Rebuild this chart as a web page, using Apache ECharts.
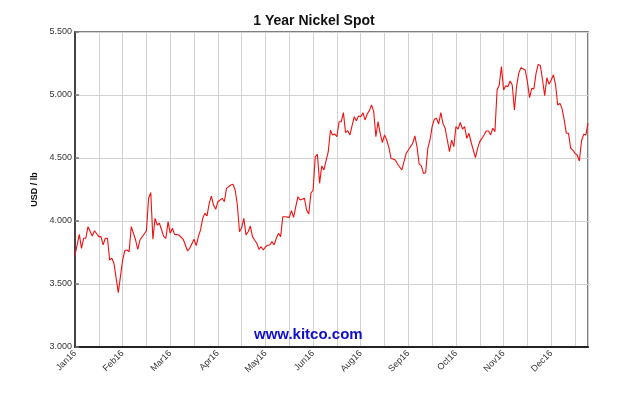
<!DOCTYPE html>
<html>
<head>
<meta charset="utf-8">
<script src="https://cdn.jsdelivr.net/npm/echarts@6/dist/echarts.min.js"></script>
<style>html,body{margin:0;padding:0;background:#fff;}#c{width:640px;height:394px;}</style>
</head>
<body>
<div id="c"></div>
<script>
// Trading-day index (from first trading day of Jan 2016) and nickel spot price, USD / lb
var days = [0,2,3,4,5,6,8,9,11,12,13,14,15,16,17,18,20,22,23,24,25,26,28,29,30,33,34,35,36,37,38,39,41,42,43,44,45,46,48,50,52,53,55,56,57,58,
  59,60,61,62,63,64,65,66,68,69,70,72,73,74,75,76,77,78,79,80,81,82,83,84,85,86,87,88,89,90,91,92,93,94,95,96,97,99,100,101,102,103,104,106,107,108,109,110,111,112,113,114,115,117,118,
  119,120,121,122,123,124,125,126,127,129,130,131,132,133,134,135,136,137,138,139,140,141,142,143,144,145,146,148,149,151,152,153,154,156,157,158,159,160,161,162,163,164,165,166,167,168,169,170,171,172,173,174,175,
  176,177,178,179,180,181,182,183,185,186,187,189,190,191,192,193,194,195,196,197,198,199,200,201,202,203,204,205,206,208,209,210,211,212,213,214,215,216,217,218,219,220,221,222,223,224,225,226,227,228,229,230,231,232,233,234,235,236,237];
var prices = [3.730,3.894,3.783,3.863,3.863,3.955,3.881,3.923,3.876,3.876,3.810,3.863,3.863,3.690,3.704,3.664,3.431,3.690,3.764,3.770,3.756,3.955,3.849,3.775,3.849,3.923,4.180,4.225,3.855,4.021,3.968,3.982,3.876,3.863,3.995,3.902,3.942,3.894,3.889,3.855,3.762,3.783,3.855,3.804,3.876,3.929,
  4.021,4.061,4.040,4.140,4.198,4.127,4.093,4.153,4.180,4.153,4.259,4.286,4.291,4.246,4.127,3.915,3.947,4.021,3.889,3.915,3.960,3.876,3.849,3.823,3.775,3.796,3.770,3.796,3.807,3.810,3.836,3.810,3.863,3.902,3.876,4.034,4.034,4.029,4.082,4.029,4.114,4.193,4.167,4.180,4.087,4.056,4.220,4.246,4.510,4.529,4.299,4.437,4.405,4.550,4.720,
  4.683,4.690,4.669,4.788,4.788,4.860,4.701,4.717,4.683,4.828,4.796,4.833,4.828,4.860,4.802,4.849,4.876,4.921,4.868,4.669,4.788,4.696,4.622,4.683,4.643,4.585,4.498,4.484,4.452,4.405,4.471,4.537,4.563,4.616,4.675,4.590,4.452,4.437,4.378,4.383,4.577,4.643,4.749,4.807,4.815,4.770,4.860,4.775,4.736,4.643,4.550,4.643,4.590,
  4.750,4.730,4.783,4.730,4.749,4.656,4.696,4.625,4.503,4.577,4.630,4.683,4.714,4.714,4.683,4.736,4.709,5.040,5.079,5.225,5.040,5.074,5.066,5.111,5.079,4.881,5.066,5.172,5.217,5.198,5.106,4.979,5.053,5.048,5.172,5.244,5.233,5.119,4.994,5.137,5.085,5.119,5.159,5.085,4.921,4.934,4.894,4.802,4.696,4.696,4.577,4.563,4.537,4.524,4.476,4.635,4.688,4.683,4.775];
var tickLabels = ['Jan16','Feb16','Mar16','Apr16','May16','Jun16','Aug16','Sep16','Oct16','Nov16','Dec16'];
var gridStep = 11;   // trading days between vertical grid lines
var labelStep = 22;  // trading days between labelled ticks
var lastDay = 237;

var data = days.map(function (d, i) { return [d, prices[i]]; });

var chart = echarts.init(document.getElementById('c'));
chart.setOption({
  animation: false,
  backgroundColor: '#ffffff',
  title: {
    text: '1 Year Nickel Spot',
    left: 309, top: 9, textAlign: 'center',
    textStyle: { fontFamily: 'Liberation Sans, Arial', fontSize: 14, fontWeight: 'bold', color: '#111' }
  },
  graphic: [{
    type: 'text', left: 254, top: 327, z: 100, zlevel: 1,
    style: { text: 'www.kitco.com', fontFamily: 'Liberation Sans, Arial', fontSize: 15, fontWeight: 'bold', fill: '#1010c8' }
  }],
  grid: { left: 75, right: 52, top: 32, bottom: 47, show: true, borderColor: '#555', borderWidth: 1.5, backgroundColor: 'transparent' },
  xAxis: {
    type: 'value', min: 0, max: lastDay, interval: gridStep,
    axisLine: { show: true, lineStyle: { color: '#222', width: 2 } },
    axisTick: { show: false },
    splitLine: { show: true, lineStyle: { color: '#d2d2d2', width: 1 } },
    axisLabel: {
      rotate: 45, fontFamily: 'Liberation Sans, Arial', fontSize: 9, color: '#333', margin: 5,
      showMaxLabel: false,
      formatter: function (v) { return (v % labelStep === 0 && v / labelStep < tickLabels.length) ? tickLabels[v / labelStep] : ''; }
    }
  },
  yAxis: {
    type: 'value', min: 3, max: 5.5, interval: 0.5,
    name: 'USD / lb', nameLocation: 'middle', nameRotate: 90, nameGap: 35,
    nameTextStyle: { fontFamily: 'Liberation Sans, Arial', fontSize: 9, fontWeight: 'bold', color: '#111' },
    axisLine: { show: true, lineStyle: { color: '#444', width: 2 } },
    axisTick: { show: true, inside: true, length: 4, lineStyle: { color: '#777', width: 1.5 } },
    splitLine: { show: true, lineStyle: { color: '#d2d2d2', width: 1 } },
    axisLabel: { fontFamily: 'Liberation Sans, Arial', fontSize: 9, color: '#333', margin: 3,
      formatter: function (v) { return v.toFixed(3); } }
  },
  series: [{
    type: 'line', data: data, showSymbol: false, symbol: 'none',
    lineStyle: { color: '#f01010', width: 1.1 },
    z: 5
  }]
});
</script>
</body>
</html>
